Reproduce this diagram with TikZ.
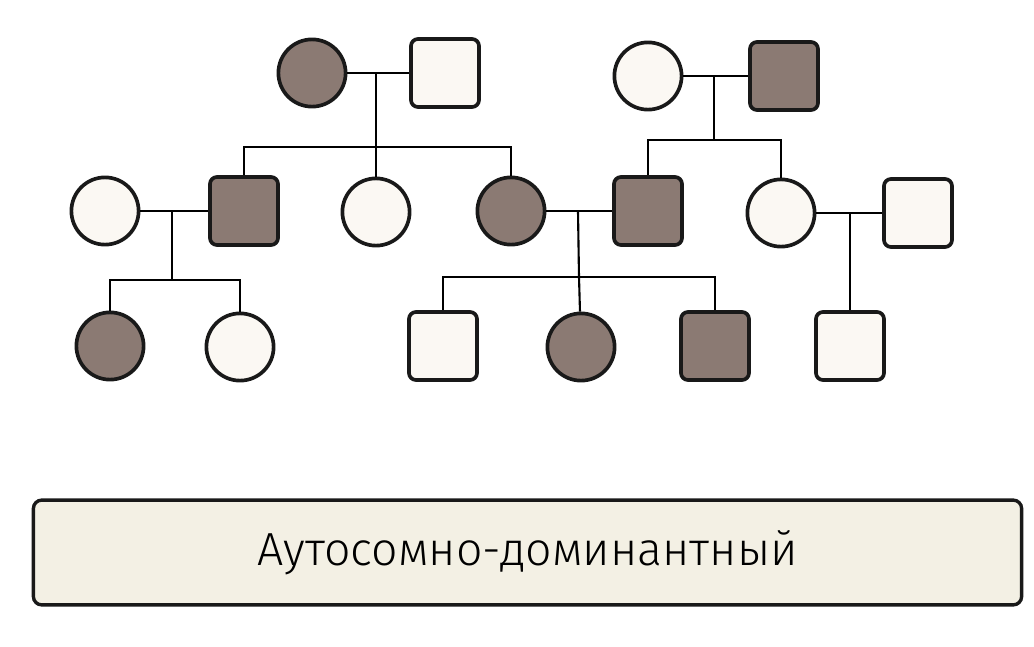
\documentclass[tikz,border=0pt]{standalone}
\usepackage{fontspec}
\setmainfont{Fira Sans}[UprightFont={* Light}]
\usepackage{xcolor}

\definecolor{affcol}{HTML}{8B7A73}
\definecolor{hltcol}{HTML}{FBF8F3}
\definecolor{boxcol}{HTML}{F3F0E4}

\begin{document}
\begin{tikzpicture}
[
  x=0.025cm, y=-0.025cm,
	ind/.style={draw=black!90,line width=2.6pt,inner sep=0pt},
	fem/.style={ind,circle,minimum size=1.68cm},
	mal/.style={ind,rectangle,rounded corners=5pt,minimum size=1.7cm},
	aff/.style={fill=affcol},
	hlt/.style={fill=hltcol},
	link/.style={line width=1.5pt},
	title/.style={draw=black!90,line width=2.4pt,fill=boxcol,rounded corners=6pt}
]

\useasboundingbox (0,0) rectangle (1034,646);

% first generation
\node[fem,aff] (gmA) at(312,73) {};
\node[mal,hlt] (gpA) at(445,73) {};

\node[fem,hlt] (gmB) at(648,76) {};
\node[mal,aff] (gpB) at(784,76) {};

% second generation
\node[fem,hlt] (wifC) at(105,211) {};
\node[mal,aff] (sonA) at(244,211) {};
\node[fem,hlt] (dauA) at(376,212) {};
\node[fem,aff] (dauB) at(511,211) {};
\node[mal,aff] (sonB) at(648,211) {};
\node[fem,hlt] (dauC) at(781,213) {};
\node[mal,hlt] (husC) at(918,213) {};

% third generation
\node[fem,aff] (kidA) at(110,346) {};
\node[fem,hlt] (kidB) at(240,347) {};
\node[mal,hlt] (kidC) at(443,346) {};
\node[fem,aff] (kidD) at(581,347) {};
\node[mal,aff] (kidE) at(715,346) {};
\node[mal,hlt] (kidF) at(850,346) {};

% marriages and sibships
\coordinate (mA) at(376,73);
\coordinate (sA) at(376,147);
\draw[link] (gmA) -- (gpA);
\draw[link] (mA) -- (sA);
\draw[link] (sonA) |- (sA) -| (dauB);
\draw[link] (sA) -- (dauA);

\coordinate (mB) at(714,76);
\coordinate (sB) at(714,140);
\draw[link] (gmB) -- (gpB);
\draw[link] (mB) -- (sB);
\draw[link] (sonB) |- (sB) -| (dauC);

\coordinate (mC) at(172,211);
\coordinate (sC) at(172,280);
\draw[link] (wifC) -- (sonA);
\draw[link] (mC) -- (sC);
\draw[link] (kidA) |- (sC) -| (kidB);

\coordinate (mD) at(578,211);
\coordinate (sD) at(579,277);
\draw[link] (dauB) -- (sonB);
\draw[link] (mD) -- (sD);
\draw[link] (kidC) |- (sD) -| (kidE);
\draw[link] (sD) -- (kidD);

\coordinate (mE) at(850,213);
\draw[link] (dauC) -- (husC);
\draw[link] (mE) -- (kidF);

% caption
\node[title,minimum width=24.7cm,minimum height=2.62cm] (cap) at(527.5,552.5)
  {\fontsize{33}{40}\selectfont Аутосомно-доминантный};
\end{tikzpicture}
\end{document}
